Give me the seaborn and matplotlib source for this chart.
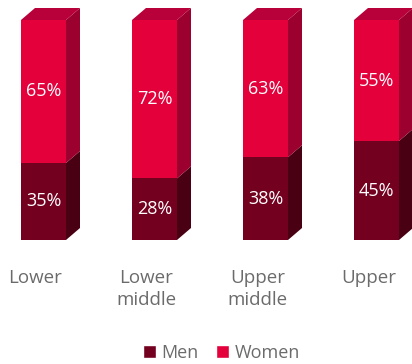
import matplotlib
matplotlib.use("Agg")
import matplotlib.pyplot as plt
import matplotlib.transforms as mtransforms
from matplotlib.patches import Polygon, Patch
import seaborn as sns
import pandas as pd

categories = ["Lower", "Lower\nmiddle", "Upper\nmiddle", "Upper"]
men = [35, 28, 38, 45]
women = [65, 72, 63, 55]

sns.set_style("white")
plt.rcParams["font.family"] = ["Open Sans", "DejaVu Sans"]

W_FRONT, W_SIDE, W_TOP = "#E3003B", "#9C002E", "#B8003A"
M_FRONT, M_SIDE = "#74001F", "#4A0013"

fig = plt.figure(figsize=(4.12, 3.64), dpi=100)
ax = fig.add_axes([0, (364 - 240) / 364, 1, 220 / 364])

men_share = [m / (m + w) * 100 for m, w in zip(men, women)]
df = pd.DataFrame({"cat": categories, "men": men_share,
                   "total": [100.0] * len(categories)})
bw = 45 / 111
sns.barplot(data=df, x="cat", y="total", color=W_FRONT, width=bw, ax=ax,
            saturation=1, linewidth=0)
sns.barplot(data=df, x="cat", y="men", color=M_FRONT, width=bw, ax=ax,
            saturation=1, linewidth=0)

ax.set_xlim(-43.5 / 111, (412 - 43.5) / 111)
ax.set_ylim(0, 100)
dx = 14 / 111
dy = 12 / 220 * 100

for i, (m, t) in enumerate(zip(df["men"], df["total"])):
    x0, x1 = i - bw / 2, i + bw / 2
    ax.add_patch(Polygon([(x1, 0), (x1 + dx, dy), (x1 + dx, m + dy), (x1, m)],
                         closed=True, facecolor=M_SIDE, edgecolor="none", clip_on=False))
    ax.add_patch(Polygon([(x1, m), (x1 + dx, m + dy), (x1 + dx, t + dy), (x1, t)],
                         closed=True, facecolor=W_SIDE, edgecolor="none", clip_on=False))
    ax.add_patch(Polygon([(x0, t), (x0 + dx, t + dy), (x1 + dx, t + dy), (x1, t)],
                         closed=True, facecolor=W_TOP, edgecolor="none", clip_on=False))
    ax.text(i, m + (t - m) / 2, f"{women[i]}%", ha="center", va="center",
            color="white", fontsize=13)
    ax.text(i, m / 2, f"{men[i]}%", ha="center", va="center",
            color="white", fontsize=13)

for s in ax.spines.values():
    s.set_visible(False)
ax.set_yticks([])
ax.set_xlabel("")
ax.set_ylabel("")
ax.tick_params(axis="x", length=0, pad=21, labelsize=13.5, labelcolor="#6B6B6B")
ax.set_xticks(range(len(categories)))
ax.set_xticklabels(categories, linespacing=1.25)
off = mtransforms.ScaledTranslation(-8 / 100, 0, fig.dpi_scale_trans)
for lab in ax.get_xticklabels():
    lab.set_transform(lab.get_transform() + off)

handles = [Patch(facecolor=M_FRONT, label="Men"), Patch(facecolor=W_FRONT, label="Women")]
fig.legend(handles=handles, loc="center", bbox_to_anchor=(221.5 / 412, 11 / 364),
           ncol=2, frameon=False, fontsize=13, labelcolor="#6B6B6B",
           handlelength=0.7, handleheight=0.7, handletextpad=0.3, columnspacing=1.0)

fig.savefig("out.png", dpi=100)
